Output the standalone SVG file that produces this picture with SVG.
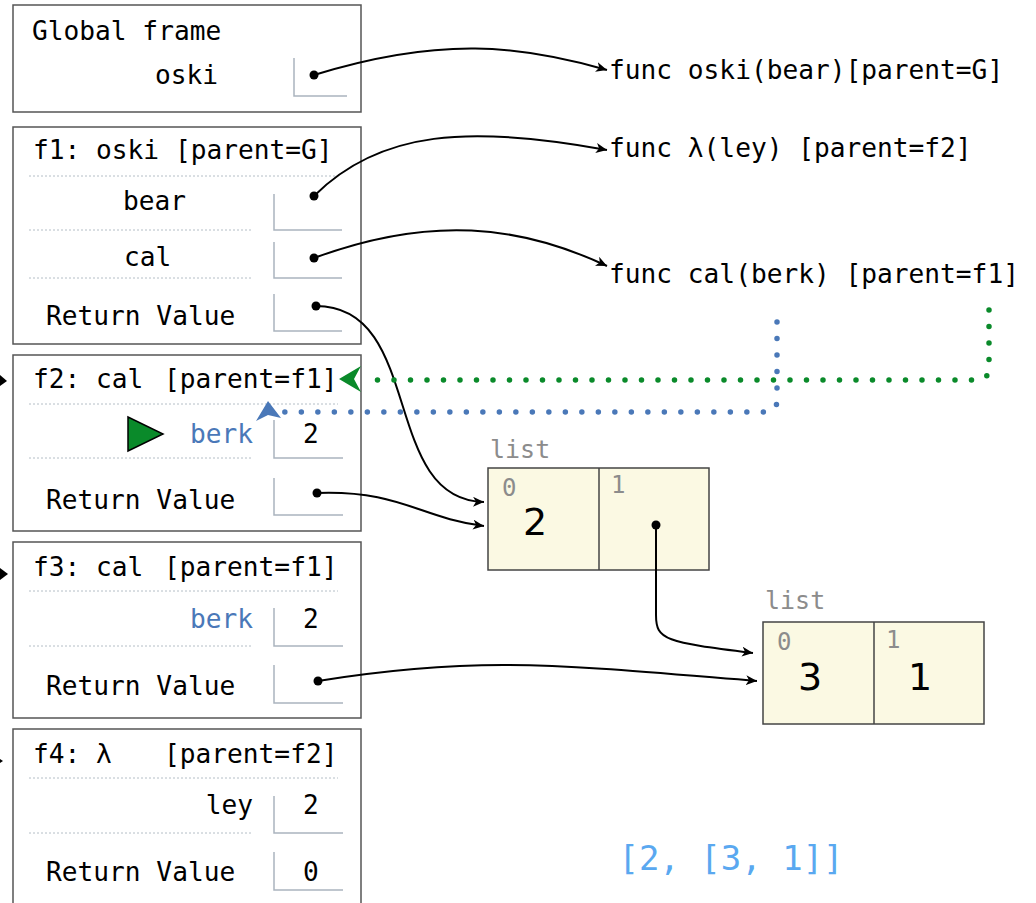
<svg xmlns="http://www.w3.org/2000/svg" width="1036" height="903" viewBox="0 0 1036 903">
<style>
text{font-family:"DejaVu Sans Mono","Liberation Mono",monospace;font-size:26.2px;fill:#000}
.frame{fill:#fff;stroke:#555;stroke-width:1.5}
.sep{stroke:#b4bec6;stroke-width:1;stroke-dasharray:2,2}
.vbox{fill:none;stroke:#aab4be;stroke-width:1.5}
.var{fill:#4a78b8}
.lst{fill:#fbf9e3;stroke:#444;stroke-width:1.5}
.idx{fill:#8c8c8c;font-size:24px}
.big{font-family:"DejaVu Sans","Liberation Sans",sans-serif;font-size:38px;text-anchor:middle}
.tag{fill:#8c8c8c;font-size:25px}
.ptr{fill:none;stroke:#000;stroke-width:2}
.dot{fill:#000}
</style>
<defs>
<marker id="ah" markerUnits="userSpaceOnUse" markerWidth="12" markerHeight="10" refX="11" refY="5" orient="auto">
<path d="M0,0 L11,5 L0,10 L3,5 z" fill="#000"/>
</marker>
</defs>

<g id="global">
<rect class="frame" x="13" y="5" width="348" height="107"/>
<text x="32" y="40">Global frame</text>
<text x="155" y="84">oski</text>
<path class="vbox" d="M294,58 V96 H347"/>
</g>

<g id="f1">
<rect class="frame" x="13" y="127" width="348" height="217"/>
<text x="33" y="159">f1: oski [parent=G]</text>
<line class="sep" x1="29" y1="176" x2="338" y2="176"/>
<text x="123" y="210">bear</text>
<path class="vbox" d="M274,194 V230 H342"/>
<line class="sep" x1="29" y1="230" x2="253" y2="230"/>
<text x="124" y="266">cal</text>
<path class="vbox" d="M274,242 V278 H342"/>
<line class="sep" x1="29" y1="278" x2="253" y2="278"/>
<text x="46" y="325">Return Value</text>
<path class="vbox" d="M274,294 V331 H342"/>
</g>

<g id="f2">
<rect class="frame" x="13" y="355" width="348" height="176"/>
<text x="33" y="388">f2: cal</text>
<text x="164" y="388">[parent=f1]</text>
<line class="sep" x1="29" y1="404" x2="338" y2="404"/>
<polygon points="128,417 128,451 163,434" fill="#0a8a2a" stroke="#000" stroke-width="1.5"/>
<text class="var" x="253" y="443" text-anchor="end">berk</text>
<path class="vbox" d="M274,420 V458 H343"/>
<text x="311" y="443" text-anchor="middle">2</text>
<line class="sep" x1="29" y1="458" x2="253" y2="458"/>
<text x="46" y="509">Return Value</text>
<path class="vbox" d="M274,478 V515 H343"/>
</g>

<g id="f3">
<rect class="frame" x="13" y="542" width="348" height="176"/>
<text x="33" y="576">f3: cal</text>
<text x="164" y="576">[parent=f1]</text>
<line class="sep" x1="29" y1="591" x2="338" y2="591"/>
<text class="var" x="253" y="628" text-anchor="end">berk</text>
<path class="vbox" d="M274,608 V646 H343"/>
<text x="311" y="628" text-anchor="middle">2</text>
<line class="sep" x1="29" y1="646" x2="253" y2="646"/>
<text x="46" y="695">Return Value</text>
<path class="vbox" d="M274,665 V703 H343"/>
</g>

<g id="f4">
<rect class="frame" x="13" y="729" width="348" height="190"/>
<text x="33" y="763">f4: λ</text>
<text x="164" y="763">[parent=f2]</text>
<line class="sep" x1="29" y1="778" x2="338" y2="778"/>
<text x="253" y="814" text-anchor="end">ley</text>
<path class="vbox" d="M274,796 V833 H343"/>
<text x="311" y="814" text-anchor="middle">2</text>
<line class="sep" x1="29" y1="833" x2="253" y2="833"/>
<text x="46" y="881">Return Value</text>
<path class="vbox" d="M274,852 V890 H343"/>
<text x="311" y="881" text-anchor="middle">0</text>
</g>

<g id="func-oski"><text x="609" y="79">func oski(bear)[parent=G]</text></g>
<g id="func-lambda"><text x="609" y="157">func λ(ley) [parent=f2]</text></g>
<g id="func-cal"><text x="609" y="283">func cal(berk) [parent=f1]</text></g>

<g id="list1">
<text class="tag" x="490" y="458">list</text>
<rect class="lst" x="488" y="468" width="221" height="102"/>
<line x1="599" y1="468" x2="599" y2="570" stroke="#444" stroke-width="1.5"/>
<text class="idx" x="502" y="496">0</text>
<text class="idx" x="611" y="493">1</text>
<text class="big" x="535" y="535">2</text>
</g>

<g id="list2">
<text class="tag" x="765" y="609">list</text>
<rect class="lst" x="763" y="622" width="221" height="102"/>
<line x1="874" y1="622" x2="874" y2="724" stroke="#444" stroke-width="1.5"/>
<text class="idx" x="777" y="650">0</text>
<text class="idx" x="886" y="648">1</text>
<text class="big" x="810" y="690">3</text>
<text class="big" x="920" y="690">1</text>
</g>

<g id="result"><text x="731" y="870" text-anchor="middle" style="fill:#5aa8f0;font-size:34px">[2, [3, 1]]</text></g>

<g id="connectors">
<path class="ptr" marker-end="url(#ah)" d="M314,75 C440,36 520,45 607,70"/>
<path class="ptr" marker-end="url(#ah)" d="M314,196 C380,130 470,125 607,150"/>
<path class="ptr" marker-end="url(#ah)" d="M314,258 C430,215 520,225 607,266"/>
<path class="ptr" marker-end="url(#ah)" d="M316,306 C425,306 380,500 484,502"/>
<path class="ptr" marker-end="url(#ah)" d="M317,493 C400,490 420,518 484,526"/>
<path class="ptr" marker-end="url(#ah)" d="M656,525 L656,615 C656,640 665,642 753,653"/>
<path class="ptr" marker-end="url(#ah)" d="M318,681 C480,655 560,665 757,681"/>
<circle class="dot" cx="314" cy="75" r="4.5"/>
<circle class="dot" cx="314" cy="196" r="4.5"/>
<circle class="dot" cx="314" cy="258" r="4.5"/>
<circle class="dot" cx="316" cy="306" r="4.5"/>
<circle class="dot" cx="317" cy="493" r="4.5"/>
<circle class="dot" cx="656" cy="525" r="4.5"/>
<circle class="dot" cx="318" cy="681" r="4.5"/>
<path d="M989,310 L989,368 Q989,380 975,380 L366,380" fill="none" stroke="#0a8a2a" stroke-width="5.5" stroke-linecap="round" stroke-dasharray="0 16.5"/>
<polygon points="339,379 361,366 354,379 361,392" fill="#0a8a2a"/>
<path d="M777,322 L777,400 Q777,412 765,412 L283,412" fill="none" stroke="#4a78b8" stroke-width="5.5" stroke-linecap="round" stroke-dasharray="0 16.5"/>
<polygon points="268,401 256,421 268,415 281,418" fill="#4a78b8"/>
<polygon points="0,375 7,381 0,386" fill="#000"/>
<polygon points="0,568 8,574 0,580" fill="#000"/>
<polygon points="0,759 3,761 0,763" fill="#000"/>
</g>
</svg>
